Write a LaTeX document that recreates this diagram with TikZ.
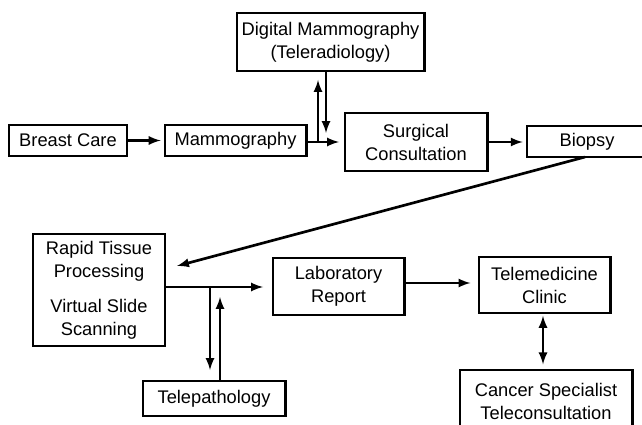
\documentclass[tikz,border=0pt]{standalone}
\usepackage{fontspec}
\setmainfont{Liberation Sans}
\usetikzlibrary{arrows}
\usetikzlibrary{calc}

\tikzset{
  box/.style={draw, line width=2.1pt, align=center, inner sep=0pt,
    font=\fontsize{13}{16.4}\selectfont},
  link/.style={->, >=latex, line width=1.9pt},
  twolink/.style={<->, >=latex, line width=1.9pt},
}

\begin{document}
\begin{tikzpicture}[x=0.025cm, y=-0.025cm]

      \useasboundingbox (0,0) rectangle (642,425);

      % top row
      \node[box, minimum width=2.95cm, minimum height=0.775cm] (breast) at (68,140.5) {Breast Care};
      \node[box, minimum width=3.525cm, minimum height=0.775cm] (mammo) at (235.5,140.5) {Mammography};
      \node[box, minimum width=4.675cm, minimum height=1.45cm] (digital) at (330.5,42) {Digital Mammography\\(Teleradiology)};
      \node[box, minimum width=3.55cm, minimum height=1.45cm] (surgical) at (416,142) {Surgical\\Consultation};
      \node[box, minimum width=3cm, minimum height=0.775cm] (biopsy) at (587,141.5) {Biopsy};

      % bottom row
      \node[box, minimum width=3.3cm, minimum height=2.8cm] (rapid) at (99,290) {Rapid Tissue\\Processing\\[0.3cm]Virtual Slide\\Scanning};
      \node[box, minimum width=3.275cm, minimum height=1.425cm] (lab) at (338.5,286.5) {Laboratory\\Report};
      \node[box, minimum width=3.275cm, minimum height=1.4cm] (telemed) at (544.5,285) {Telemedicine\\Clinic};
      \node[box, minimum width=3.55cm, minimum height=0.875cm] (telepath) at (214,398.5) {Telepathology};
      \node[box, minimum width=4.3cm, minimum height=1.55cm] (cancer) at (546,401) {Cancer Specialist\\Teleconsultation};

      \coordinate (mamout) at (306,142);
      \coordinate (surgin) at (339,142);
      \coordinate (upfoot) at (318,142);
      \coordinate (uptip) at (318,80);
      \coordinate (downtop) at (326,71);
      \coordinate (downtip) at (326,133);
      \coordinate (biofoot) at (585,157);
      \coordinate (rapidin) at (177,266);
      \coordinate (rapidout) at (165,287);
      \coordinate (labin) at (263,287);
      \coordinate (tpdown) at (210,287);
      \coordinate (tpdowntip) at (210,370);
      \coordinate (tpup) at (220,381);
      \coordinate (tpuptip) at (220,297);

      \draw[link, shorten >=2pt] (breast.east) -- (mammo.west);
      \draw[link] (mamout) -- (surgin);
      \draw[link] (upfoot) -- (uptip);
      \draw[link] (downtop) -- (downtip);
      \draw[link, shorten >=2pt] (surgical.east) -- (surgical.east -| biopsy.west);
      \draw[link] (biofoot) -- (rapidin);

      \draw[link] (rapidout) -- (labin);
      \draw[link] (tpdown) -- (tpdowntip);
      \draw[link] (tpup) -- (tpuptip);
      \draw[link, shorten >=5pt] (lab.east |- 404,283) -- (telemed.west |- 404,283);
      \draw[twolink, shorten <=1pt, shorten >=3pt] (telemed.south -| 543,0) -- (cancer.north -| 543,0);
    \end{tikzpicture}
\end{document}
